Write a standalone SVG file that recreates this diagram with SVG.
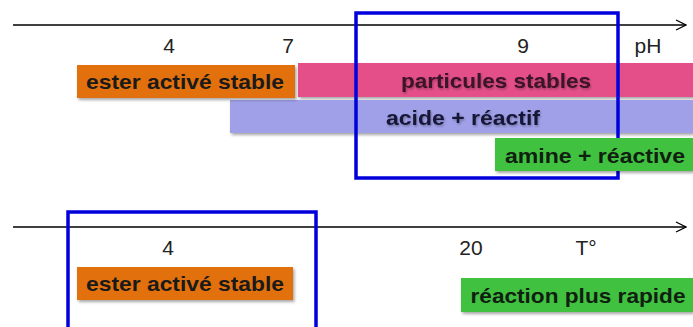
<svg xmlns="http://www.w3.org/2000/svg" width="693" height="327" viewBox="0 0 693 327">
<defs>
<filter id="sh" x="-10%" y="-20%" width="120%" height="150%">
<feDropShadow dx="1.5" dy="2" stdDeviation="1.5" flood-color="#000" flood-opacity="0.35"/>
</filter>
<filter id="ts" x="-5%" y="-20%" width="110%" height="150%">
<feDropShadow dx="1" dy="1.5" stdDeviation="1" flood-color="#000" flood-opacity="0.3"/>
</filter>
<marker id="arr" viewBox="0 0 12 12" refX="11" refY="6" markerWidth="12" markerHeight="12" markerUnits="userSpaceOnUse" orient="auto">
<path d="M1,1 L11,6 L1,11" fill="none" stroke="#000" stroke-width="1.3"/>
</marker>
</defs>
<style>
.ax{stroke:#000;stroke-width:1.6;fill:none}
.num{font-family:"Liberation Sans",Arial,sans-serif;font-size:21px;fill:#222;text-anchor:middle}
.lbl{font-family:"Liberation Sans",Arial,sans-serif;font-size:21px;font-weight:bold;text-anchor:middle}
.frame{fill:none;stroke:#0000dc;stroke-width:3.5}
</style>
<rect width="693" height="327" fill="#fff"/>
<g id="connectors">
<line class="ax" x1="13" y1="25" x2="686" y2="25" marker-end="url(#arr)"/>
<line class="ax" x1="13" y1="227" x2="686" y2="227" marker-end="url(#arr)"/>
</g>
<g id="ticks-top">
<text class="num" x="169" y="53">4</text>
<text class="num" x="288" y="53">7</text>
<text class="num" x="523" y="53">9</text>
<text class="num" x="648" y="53">pH</text>
</g>
<g id="ticks-bottom">
<text class="num" x="168" y="255">4</text>
<text class="num" x="471" y="255">20</text>
<text class="num" x="586" y="255">T°</text>
</g>
<g id="particules">
<rect x="298" y="63" width="395" height="34" fill="#e4508a" filter="url(#sh)"/>
<text class="lbl" x="496" y="88" fill="#3a1225" textLength="190" lengthAdjust="spacingAndGlyphs" filter="url(#ts)">particules stables</text>
</g>
<g id="acide">
<rect x="230" y="100" width="463" height="33" fill="#a0a0e8" filter="url(#sh)"/>
<text class="lbl" x="463" y="125" fill="#181838" textLength="154" lengthAdjust="spacingAndGlyphs" filter="url(#ts)">acide + réactif</text>
</g>
<g id="ester1">
<rect x="77" y="65" width="218" height="33" fill="#e2700f" filter="url(#sh)"/>
<text class="lbl" x="185" y="89" fill="#1a1a1a" textLength="198" lengthAdjust="spacingAndGlyphs">ester activé stable</text>
</g>
<g id="frame-top">
<rect class="frame" x="356" y="13" width="262" height="165"/>
</g>
<g id="amine">
<rect x="495" y="138" width="198" height="33" fill="#3fc23f" filter="url(#sh)"/>
<text class="lbl" x="595" y="163" fill="#102010" textLength="180" lengthAdjust="spacingAndGlyphs">amine + réactive</text>
</g>
<g id="frame-bottom">
<rect class="frame" x="68" y="212" width="248" height="130"/>
</g>
<g id="ester2">
<rect x="77" y="267" width="216" height="33" fill="#e2700f" filter="url(#sh)"/>
<text class="lbl" x="185" y="291" fill="#1a1a1a" textLength="198" lengthAdjust="spacingAndGlyphs">ester activé stable</text>
</g>
<g id="reaction">
<rect x="461" y="278" width="232" height="34" fill="#3fc23f" filter="url(#sh)"/>
<text class="lbl" x="578" y="303" fill="#102010" textLength="215" lengthAdjust="spacingAndGlyphs">réaction plus rapide</text>
</g>
</svg>
